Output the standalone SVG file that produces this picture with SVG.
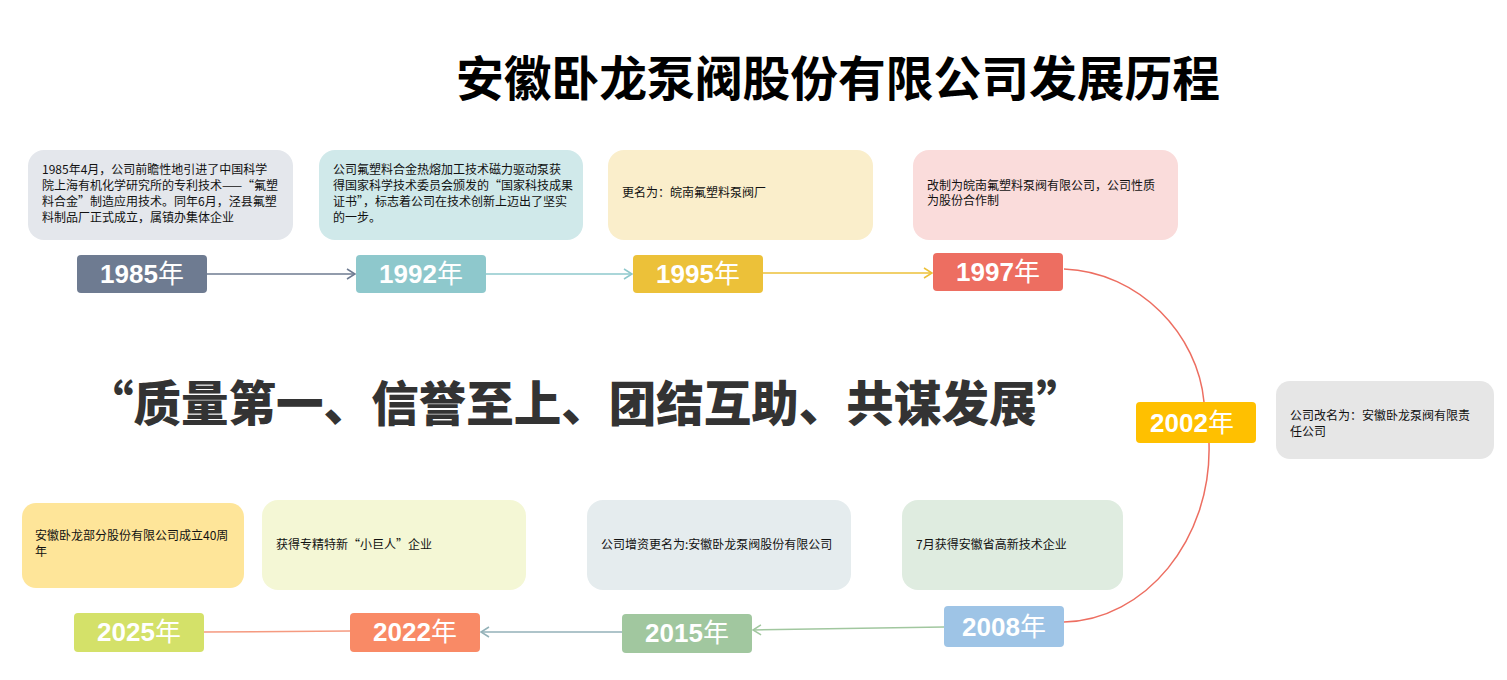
<svg xmlns="http://www.w3.org/2000/svg" width="1507" height="680" viewBox="0 0 1507 680">
<defs>
<style>
.title{font-family:"Noto Sans CJK SC","Liberation Sans",sans-serif;font-size:48px;font-weight:700;fill:#000}
.slogan{font-family:"Noto Sans CJK SC","Liberation Sans",sans-serif;font-size:48px;font-weight:900;fill:#333}
.desc{font-family:"Noto Sans CJK SC","Liberation Sans",sans-serif;font-size:12px;fill:#111}
.year{font-family:"Liberation Sans","Noto Sans CJK SC",sans-serif;font-size:26px;font-weight:700;fill:#fff;text-anchor:middle}
.nian{font-family:"Noto Sans CJK SC",sans-serif;font-weight:400}
.conn{fill:none;stroke-width:1.5}
</style>
<marker id="a1" markerUnits="userSpaceOnUse" markerWidth="12" markerHeight="14" refX="10" refY="7" orient="auto"><path d="M2,2 L10,7 L2,12" fill="none" stroke="#6e7b91" stroke-width="1.5"/></marker>
<marker id="a2" markerUnits="userSpaceOnUse" markerWidth="12" markerHeight="14" refX="10" refY="7" orient="auto"><path d="M2,2 L10,7 L2,12" fill="none" stroke="#8ec8cc" stroke-width="1.5"/></marker>
<marker id="a3" markerUnits="userSpaceOnUse" markerWidth="12" markerHeight="14" refX="10" refY="7" orient="auto"><path d="M2,2 L10,7 L2,12" fill="none" stroke="#ecc139" stroke-width="1.5"/></marker>
<marker id="a4" markerUnits="userSpaceOnUse" markerWidth="12" markerHeight="14" refX="10" refY="7" orient="auto"><path d="M2,2 L10,7 L2,12" fill="none" stroke="#a1c79f" stroke-width="1.5"/></marker>
<marker id="a5" markerUnits="userSpaceOnUse" markerWidth="12" markerHeight="14" refX="10" refY="7" orient="auto"><path d="M2,2 L10,7 L2,12" fill="none" stroke="#93b1b8" stroke-width="1.5"/></marker>
</defs>
<rect width="1507" height="680" fill="#fff"/>

<text class="title" x="456" y="96" textLength="764" lengthAdjust="spacingAndGlyphs">安徽卧龙泵阀股份有限公司发展历程</text>
<text class="slogan" x="86" y="421" textLength="998" lengthAdjust="spacingAndGlyphs">“质量第一、信誉至上、团结互助、共谋发展”</text>

<g id="connectors">
<line class="conn" x1="207" y1="274" x2="355" y2="274" stroke="#6e7b91" marker-end="url(#a1)"/>
<line class="conn" x1="486" y1="274" x2="632" y2="274" stroke="#8ec8cc" marker-end="url(#a2)"/>
<line class="conn" x1="763" y1="273" x2="932" y2="273" stroke="#ecc139" marker-end="url(#a3)"/>
<path class="conn" d="M1064,269 C1140,272 1198,335 1204,402" stroke="#ed6e61"/>
<path class="conn" d="M1209,443 C1212,540 1145,620 1064,622" stroke="#ed6e61"/>
<line class="conn" x1="944" y1="627" x2="753" y2="630" stroke="#a1c79f" marker-end="url(#a4)"/>
<line class="conn" x1="622" y1="632" x2="481" y2="632" stroke="#93b1b8" marker-end="url(#a5)"/>
<line class="conn" x1="350" y1="631" x2="204" y2="632" stroke="#f59a80"/>
</g>

<g id="desc1985"><rect x="28" y="150" width="265" height="90" rx="16" fill="#e4e7ec"/>
<text class="desc"><tspan x="42" y="174">1985年4月，公司前瞻性地引进了中国科学</tspan><tspan x="42" y="190">院上海有机化学研究所的专利技术——“氟塑</tspan><tspan x="42" y="206">料合金”制造应用技术。同年6月，泾县氟塑</tspan><tspan x="42" y="222">料制品厂正式成立，属镇办集体企业</tspan></text></g>
<g id="desc1992"><rect x="319" y="150" width="264" height="90" rx="16" fill="#d0e9ea"/>
<text class="desc"><tspan x="333" y="174">公司氟塑料合金热熔加工技术磁力驱动泵获</tspan><tspan x="333" y="190">得国家科学技术委员会颁发的“国家科技成果</tspan><tspan x="333" y="206">证书”，标志着公司在技术创新上迈出了坚实</tspan><tspan x="333" y="222">的一步。</tspan></text></g>
<g id="desc1995"><rect x="608" y="150" width="265" height="90" rx="16" fill="#faeecb"/>
<text class="desc" x="622" y="197">更名为：皖南氟塑料泵阀厂</text></g>
<g id="desc1997"><rect x="913" y="150" width="265" height="90" rx="16" fill="#fadcdb"/>
<text class="desc"><tspan x="927" y="190">改制为皖南氟塑料泵阀有限公司，公司性质</tspan><tspan x="927" y="205">为股份合作制</tspan></text></g>
<g id="desc2002"><rect x="1276" y="381" width="218" height="78" rx="14" fill="#e6e6e6"/>
<text class="desc"><tspan x="1290" y="420">公司改名为：安徽卧龙泵阀有限责</tspan><tspan x="1290" y="436">任公司</tspan></text></g>
<g id="desc2008"><rect x="902" y="500" width="221" height="90" rx="16" fill="#dfece0"/>
<text class="desc" x="916" y="549">7月获得安徽省高新技术企业</text></g>
<g id="desc2015"><rect x="587" y="500" width="264" height="90" rx="16" fill="#e5ecee"/>
<text class="desc" x="601" y="549">公司增资更名为:安徽卧龙泵阀股份有限公司</text></g>
<g id="desc2022"><rect x="262" y="500" width="264" height="90" rx="16" fill="#f4f7d5"/>
<text class="desc" x="276" y="549">获得专精特新“小巨人”企业</text></g>
<g id="desc2025"><rect x="22" y="503" width="222" height="85" rx="14" fill="#fee599"/>
<text class="desc"><tspan x="35" y="540">安徽卧龙部分股份有限公司成立40周</tspan><tspan x="35" y="556">年</tspan></text></g>

<g id="y1985"><rect x="77" y="255" width="130" height="38" rx="4" fill="#6e7b91"/><text class="year" x="142" y="283">1985<tspan class="nian">年</tspan></text></g>
<g id="y1992"><rect x="356" y="255" width="130" height="38" rx="4" fill="#8ec8cc"/><text class="year" x="421" y="283">1992<tspan class="nian">年</tspan></text></g>
<g id="y1995"><rect x="633" y="255" width="130" height="38" rx="4" fill="#ecc139"/><text class="year" x="698" y="283">1995<tspan class="nian">年</tspan></text></g>
<g id="y1997"><rect x="933" y="253" width="130" height="38" rx="4" fill="#ed6e61"/><text class="year" x="998" y="281">1997<tspan class="nian">年</tspan></text></g>
<g id="y2002"><rect x="1136" y="402" width="120" height="41" rx="4" fill="#ffc000"/><text class="year" x="1192" y="432">2002<tspan class="nian">年</tspan></text></g>
<g id="y2008"><rect x="944" y="606" width="120" height="41" rx="4" fill="#9ec4e6"/><text class="year" x="1004" y="636">2008<tspan class="nian">年</tspan></text></g>
<g id="y2015"><rect x="622" y="614" width="130" height="39" rx="4" fill="#a1c79f"/><text class="year" x="687" y="642">2015<tspan class="nian">年</tspan></text></g>
<g id="y2022"><rect x="350" y="613" width="130" height="39" rx="4" fill="#f98a66"/><text class="year" x="415" y="641">2022<tspan class="nian">年</tspan></text></g>
<g id="y2025"><rect x="74" y="613" width="130" height="39" rx="4" fill="#d4e169"/><text class="year" x="139" y="641">2025<tspan class="nian">年</tspan></text></g>
</svg>
